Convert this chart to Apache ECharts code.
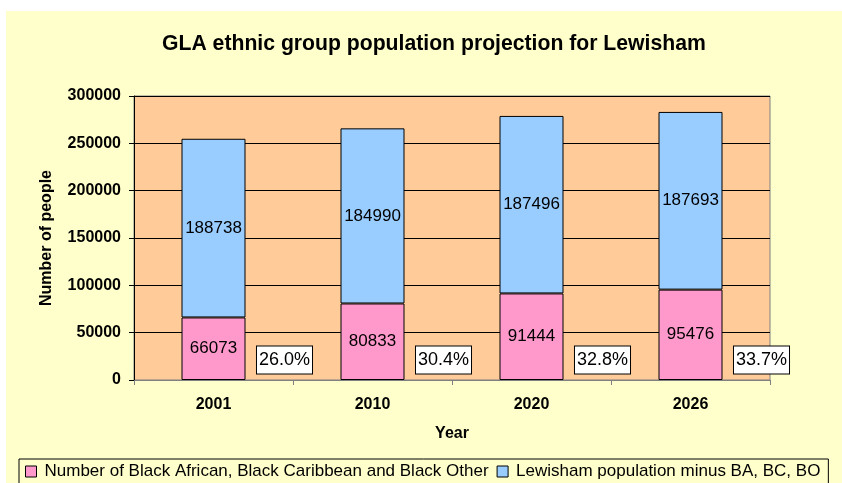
<!DOCTYPE html>
<html>
<head>
<meta charset="utf-8">
<style>
  html, body { margin: 0; padding: 0; background: #ffffff; }
  #chart { width: 842px; height: 483px; }
</style>
<script src="https://cdn.jsdelivr.net/npm/echarts@6/dist/echarts.min.js"></script>
</head>
<body>
<div id="chart"></div>
<script>
// Lewisham population projection, split into Black groups and the rest
const years = ['2001', '2010', '2020', '2026'];
const blackPopulation = [66073, 80833, 91444, 95476];
const otherPopulation = [188738, 184990, 187496, 187693];
const blackShareLabels = ['26.0%', '30.4%', '32.8%', '33.7%'];
const yTicks = [0, 50000, 100000, 150000, 200000, 250000, 300000];

const chart = echarts.init(document.getElementById('chart'), null, { renderer: 'canvas' });

const font = 'Arial, "Liberation Sans", sans-serif';

chart.setOption({
  backgroundColor: '#ffffff',
  animation: false,
  textStyle: { fontFamily: font },
  graphic: [
    {
      type: 'rect', z: -10, silent: true,
      shape: { x: 6, y: 11, width: 842, height: 480 },
      style: { fill: '#FFFFCC' }
    }
  ],
  title: {
    text: 'GLA ethnic group population projection for Lewisham',
    left: 157,
    top: 29,
    textStyle: { fontFamily: font, fontSize: 21.2, fontWeight: 'bold', color: '#000' }
  },
  legend: {
    left: 19,
    top: 459,
    itemGap: 8,
    itemWidth: 11,
    itemHeight: 11,
    padding: [4, 8, 6, 6],
    borderColor: '#000',
    borderWidth: 1,
    backgroundColor: '#FFFFCC',
    textStyle: { fontFamily: font, fontSize: 17, color: '#000', padding: [0, 0, 0, 3] },
    data: [
      { name: 'Number of Black African, Black Caribbean and Black Other', icon: 'rect', itemStyle: { borderColor: '#000', borderWidth: 1 } },
      { name: 'Lewisham population minus BA, BC, BO', icon: 'rect', itemStyle: { borderColor: '#000', borderWidth: 1 } }
    ]
  },
  grid: {
    left: 134, right: 72, top: 96, bottom: 103,
    show: true,
    backgroundColor: '#FFCC99',
    borderColor: '#808080',
    borderWidth: 1
  },
  xAxis: {
    type: 'category',
    data: years,
    name: 'Year',
    nameLocation: 'middle',
    nameGap: 46,
    nameTextStyle: { fontFamily: font, fontSize: 16, fontWeight: 'bold', color: '#000' },
    axisLine: { show: true, lineStyle: { color: '#808080', width: 1 } },
    axisTick: { show: true, inside: false, length: 5, alignWithLabel: false, lineStyle: { color: '#808080' } },
    axisLabel: { fontFamily: font, fontSize: 16, fontWeight: 'bold', color: '#000', margin: 17 },
    splitLine: { show: false }
  },
  yAxis: {
    type: 'value',
    min: 0,
    max: 300000,
    interval: 50000,
    name: 'Number of people',
    nameLocation: 'middle',
    nameGap: 79,
    nameRotate: 90,
    nameTextStyle: { fontFamily: font, fontSize: 16, fontWeight: 'bold', color: '#000' },
    axisLine: { show: true, lineStyle: { color: '#000', width: 1 } },
    axisTick: { show: true, length: 5, lineStyle: { color: '#000' } },
    axisLabel: {
      fontFamily: font, fontSize: 16, fontWeight: 'bold', color: '#000', margin: 13,
      formatter: v => yTicks.includes(v) ? String(v) : ''
    },
    splitLine: { show: true, lineStyle: { color: '#000', width: 1 } }
  },
  series: [
    {
      name: 'Number of Black African, Black Caribbean and Black Other',
      type: 'bar',
      stack: 'pop',
      data: blackPopulation,
      barWidth: 64,
      itemStyle: { color: '#FF99CC', borderColor: '#000', borderWidth: 1 },
      label: {
        show: true, position: 'inside',
        fontFamily: font, fontSize: 17, color: '#000'
      }
    },
    {
      name: 'Lewisham population minus BA, BC, BO',
      type: 'bar',
      stack: 'pop',
      data: otherPopulation,
      barWidth: 64,
      itemStyle: { color: '#99CCFF', borderColor: '#000', borderWidth: 1 },
      label: {
        show: true, position: 'inside',
        fontFamily: font, fontSize: 17, color: '#000'
      }
    },
    {
      // share of the Black groups in the total, boxed beside each bar
      name: 'share',
      type: 'scatter',
      symbolSize: 0,
      silent: true,
      z: 5,
      itemStyle: { opacity: 1 },
      data: years.map((y, i) => ({ value: [y, 0], label: { formatter: blackShareLabels[i] } })),
      label: {
        show: true,
        position: 'inside',
        offset: [71, -20],
        fontFamily: font, fontSize: 18, color: '#000',
        backgroundColor: '#fff',
        borderColor: '#000',
        borderWidth: 1,
        padding: [5, 2, 4, 2]
      }
    }
  ]
});
</script>
</body>
</html>
